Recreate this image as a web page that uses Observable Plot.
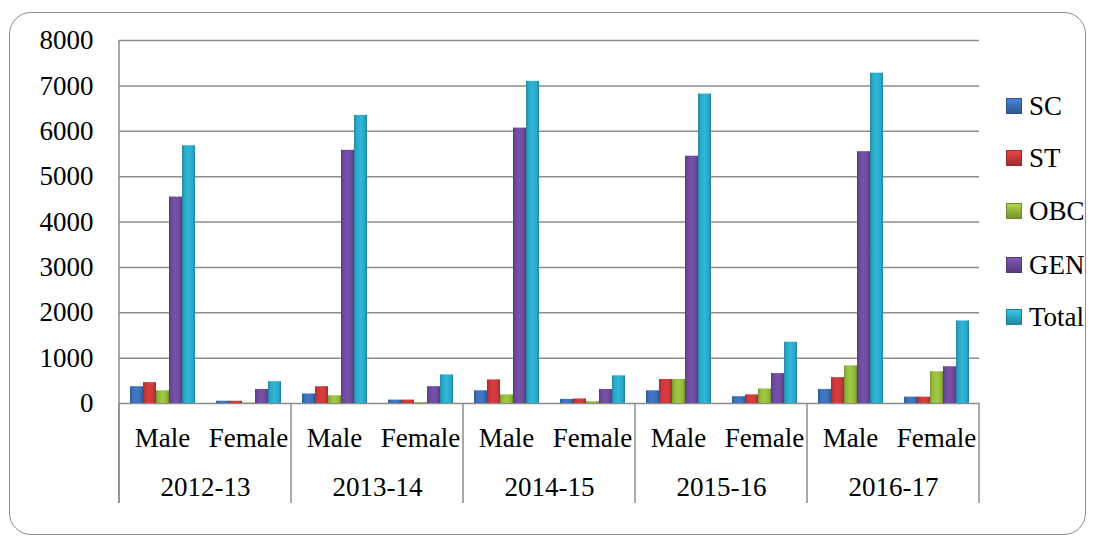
<!DOCTYPE html>
<html><head><meta charset="utf-8">
<style>
body{margin:0;background:#fff;font-family:'Liberation Serif', serif;}
#wrap{position:relative;width:1095px;height:542px;overflow:hidden;background:#fff;}
#border{position:absolute;left:9px;top:12px;width:1077px;height:523px;border:1.5px solid #8c8c8c;border-radius:22px;box-sizing:border-box;}
#chart{position:absolute;left:0;top:0;}
.leg{position:absolute;left:1006px;height:30px;display:flex;align-items:center;font-size:27px;color:#000;font-family:'Liberation Serif', serif;}
.sw{width:14px;height:14px;margin-right:7px;}
</style>
<script src="https://cdn.jsdelivr.net/npm/d3@7"></script>
<script src="https://cdn.jsdelivr.net/npm/@observablehq/plot@0.6"></script>
</head>
<body>
<div id="wrap">
<div id="border"></div>
<svg width="0" height="0" style="position:absolute">
<defs id="defs"></defs>
</svg>
<div id="chart"></div>
</div>
<script>
const years = ["2012-13","2013-14","2014-15","2015-16","2016-17"];
const sexes = ["Male","Female"];
const categories = ["SC","ST","OBC","GEN","Total"];
const yTicks = [0,1000,2000,3000,4000,5000,6000,7000,8000];
// values in order: 2012-13 M, F, 2013-14 M, F, ...
const SC    = [370, 50, 210, 75, 280, 90, 280, 150, 310, 140];
const ST    = [460, 50, 370, 75, 520, 100, 530, 190, 570, 140];
const OBC   = [280, 10, 170, 20, 190, 40, 530, 320, 830, 700];
const GEN   = [4550, 310, 5580, 370, 6070, 310, 5450, 660, 5550, 810];
const Total = [5680, 480, 6350, 630, 7100, 610, 6820, 1350, 7280, 1820];
const colors = ["#3b6fb6","#c7383a","#93b83c","#6d4a9c","#2ba7c6"];

const series = {SC, ST, OBC, GEN, Total};
const groups = [];
years.forEach(y => sexes.forEach(s => groups.push(y + "|" + s)));
const data = [];
groups.forEach((g, i) => categories.forEach(c => data.push({g, cat: c, value: series[c][i]})));

const defs = d3.select("#defs");
categories.forEach((c, i) => {
  const base = d3.color(colors[i]);
  const lg = defs.append("linearGradient").attr("id", "grad" + c).attr("x1", "0").attr("x2", "1").attr("y1", "0").attr("y2", "0");
  lg.append("stop").attr("offset", "0%").attr("stop-color", base.darker(0.6));
  lg.append("stop").attr("offset", "18%").attr("stop-color", base);
  lg.append("stop").attr("offset", "50%").attr("stop-color", base.brighter(0.25));
  lg.append("stop").attr("offset", "82%").attr("stop-color", base);
  lg.append("stop").attr("offset", "100%").attr("stop-color", base.darker(0.7));
});

const serif = "'Liberation Serif', serif";
const chart = Plot.plot({
  width: 1095,
  height: 542,
  marginLeft: 118,
  marginRight: 115,
  marginTop: 40,
  marginBottom: 139,
  style: {fontFamily: serif, fontSize: "27px", color: "#000", background: "transparent", overflow: "visible"},
  fx: {domain: groups, padding: 0, label: null, axis: "bottom", tickSize: 0, tickPadding: 24, tickFormat: d => d.split("|")[1]},
  x: {domain: categories, axis: null, paddingInner: 0, paddingOuter: 0.77},
  y: {domain: [0, 8000], ticks: yTicks, tickSize: 0, tickPadding: 26, label: null, tickFormat: d => String(d)},
  color: {domain: categories, range: categories.map(c => "url(#grad" + c + ")")},
  marks: [
    Plot.ruleY(yTicks, {stroke: "#8c8c8c", strokeWidth: 1.5}),
    Plot.barY(data, {fx: "g", x: "cat", y: "value", fill: "cat"}),
    Plot.text(years, {fx: d => d + "|Male", text: d => d, frameAnchor: "bottom-right", textAnchor: "middle", lineAnchor: "middle", dy: 84, fill: "#000"})
  ]
});
document.getElementById("chart").appendChild(chart);
d3.select(chart).selectAll("text").style("font-family", serif).style("font-size", "27px");

const fx = chart.scale("fx"), ys = chart.scale("y");
const bw = fx.bandwidth;
const bottom = 503;
const g = d3.select(chart).append("g").attr("stroke", "#8c8c8c").attr("stroke-width", 1.5);
const x0 = fx.apply(groups[0]);
g.append("line").attr("x1", x0).attr("x2", x0).attr("y1", ys.apply(8000)).attr("y2", bottom);
years.forEach(y => {
  const x = fx.apply(y + "|Male");
  g.append("line").attr("x1", x).attr("x2", x).attr("y1", ys.apply(0)).attr("y2", bottom);
});
const xe = fx.apply(groups[groups.length - 1]) + bw;
g.append("line").attr("x1", xe).attr("x2", xe).attr("y1", ys.apply(0)).attr("y2", bottom);

const legTops = [106, 158, 211, 265, 317];
const wrap = document.getElementById("wrap");
categories.forEach((c, i) => {
  const base = d3.color(colors[i]);
  const d = document.createElement("div");
  d.className = "leg";
  d.style.top = (legTops[i] - 15) + "px";
  d.style.fontFamily = serif;
  d.innerHTML = `<div class="sw" style="background:linear-gradient(180deg, ${base.brighter(0.5)} 0%, ${base} 45%, ${base.darker(0.6)} 100%);border:0.5px solid ${base.darker(0.8)}"></div><span>${c}</span>`;
  wrap.appendChild(d);
});
</script>
</body></html>
